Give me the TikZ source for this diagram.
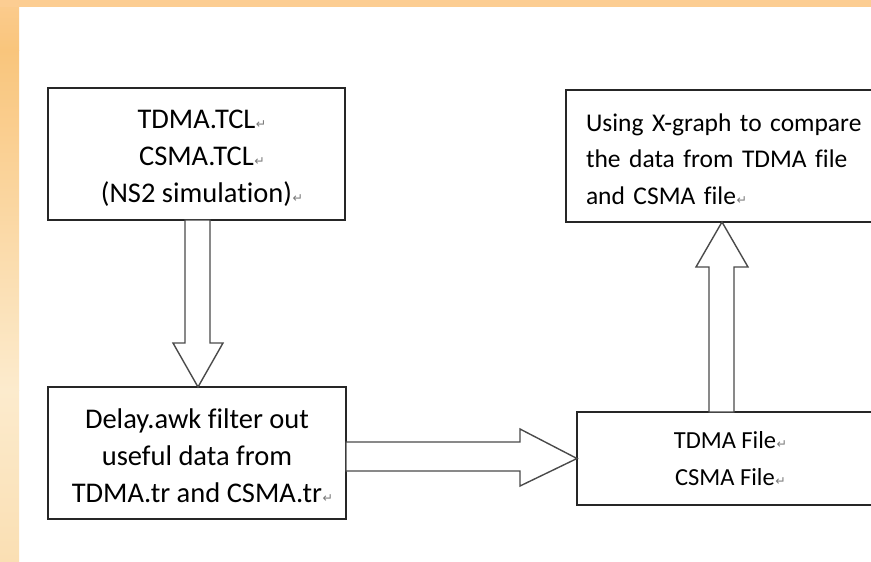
\documentclass[tikz,border=0pt]{standalone}
\usepackage{fontspec}
\setmainfont{Carlito}[Ligatures=NoCommon]
\newfontfamily\symfont{DejaVu Sans}
\usetikzlibrary{calc}
\definecolor{bandtop}{HTML}{FCCD92}
\definecolor{bandA}{HTML}{FBCB8C}
\definecolor{bandB}{HTML}{F9C57C}
\definecolor{bandC}{HTML}{FCEBCD}
\definecolor{bandD}{HTML}{FADFB3}
\definecolor{boxline}{HTML}{262626}
\definecolor{arrowline}{HTML}{4A4A4A}
\definecolor{markgray}{HTML}{7A7A7A}
\newcommand{\retmark}{\rlap{\hspace{0.5pt}\textcolor{markgray}{\symfont\fontsize{12.5}{12.5}\selectfont ↵}}}
\begin{document}
\begin{tikzpicture}[x=1pt,y=-1pt,
  box/.style={draw=boxline, line width=1.4pt, fill=white, inner sep=0pt, outer sep=0pt},
  boxtext/.style={inner sep=0pt},
  bigtext/.style={boxtext, font=\fontsize{28.5}{37}\selectfont, align=center},
  blockarrow/.style={draw=arrowline, line width=1.4pt, fill=white, line join=miter}]
\useasboundingbox (0,0) rectangle (871,562);
\clip (0,0) rectangle (871,562);
\fill[white] (0,0) rectangle (871,562);
% page border bands
\fill[bandtop] (0,0) rectangle (871,7);
\fill[bandtop] (0,0) rectangle (19,7);
\shade[top color=bandA, bottom color=bandB] (0,7) rectangle (19,50);
\shade[top color=bandB, bottom color=bandC] (0,50) rectangle (19,390);
\shade[top color=bandC, bottom color=bandD] (0,390) rectangle (19,562);
% boxes
\node[box, minimum width=297pt, minimum height=132pt] (tcl) at (196.5,154) {};
\node[box, minimum width=311pt, minimum height=132pt] (xgraph) at (721.5,156) {};
\node[box, minimum width=298pt, minimum height=132pt] (awk) at (197,453) {};
\node[box, minimum width=296pt, minimum height=93pt] (files) at (725,458.5) {};
% box texts
\node[bigtext] (tcltext) at ($(tcl.center)+(0,4)$)
  {TDMA.TCL\retmark\\CSMA.TCL\retmark\\(NS2 simulation)\retmark};
\node[boxtext, font=\fontsize{25.5}{36.5}\selectfont, align=left, text width=271pt]
  (xgraphtext) at ($(xgraph.center)+(0,3)$)
  {\makebox[271pt][s]{Using X-graph to compare}\\\makebox[271pt][s]{the data from TDMA file}\\and CSMA file\retmark};
\node[bigtext] (awktext) at ($(awk.center)+(0,3)$)
  {Delay.awk filter out\\useful data from\\TDMA.tr and CSMA.tr\retmark};
\node[boxtext, font=\fontsize{24.5}{37}\selectfont, align=center] (filestext) at (files.center)
  {TDMA File\retmark\\CSMA File\retmark};
% block arrows
\draw[blockarrow] ($(tcl.south)+(-11.5,0)$) -- ($(awk.north)+(-12,-44)$) -- ($(awk.north)+(-24,-44)$)
  -- ($(awk.north)+(1,0)$) -- ($(awk.north)+(26,-44)$) -- ($(awk.north)+(13,-44)$)
  -- ($(tcl.south)+(13.5,0)$) -- cycle;
\draw[blockarrow] ($(files.north)+(-16,0)$) -- ($(xgraph.south)+(-12.5,45)$) -- ($(xgraph.south)+(-25.5,45)$)
  -- ($(xgraph.south)+(0.5,0)$) -- ($(xgraph.south)+(26.5,45)$) -- ($(xgraph.south)+(12.5,45)$)
  -- ($(files.north)+(9,0)$) -- cycle;
\draw[blockarrow] ($(awk.east)+(0,-11)$) -- ($(files.west)+(-57,-16.5)$) -- ($(files.west)+(-57,-29.5)$)
  -- (files.west) -- ($(files.west)+(-57,27.5)$) -- ($(files.west)+(-57,12.5)$)
  -- ($(awk.east)+(0,18)$) -- cycle;
\end{tikzpicture}
\end{document}
